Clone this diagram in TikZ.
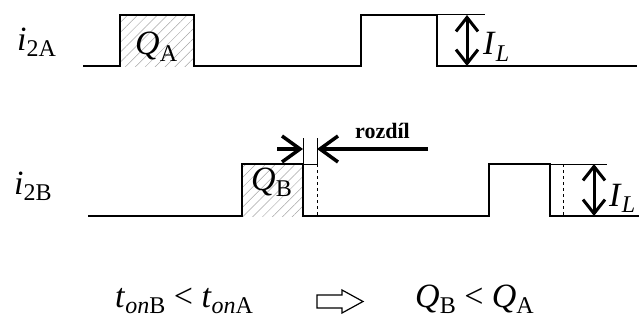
\documentclass[tikz,border=0pt]{standalone}
\usepackage{amsmath,amssymb}
\usepackage{fontspec}
\setmainfont{Liberation Serif}
\usetikzlibrary{arrows.meta,patterns.meta}
\newcommand{\idx}[1]{\raisebox{-6pt}{\fontsize{24}{24}\selectfont #1}}

\begin{document}
\begin{tikzpicture}[x=1pt,y=-1pt]
        \tikzset{Wave/.style={line width=2.4pt},
        Guide/.style={line width=1pt},
        Lbl/.style={font=\fontsize{34}{36}\selectfont,inner sep=0pt,anchor=base west},
        Hatch/.style={pattern={Lines[angle=45,distance=7pt,line width=0.5pt]},pattern color=gray!70},
        Span/.style={line width=3pt,{Straight Barb[length=14pt,width=22pt]}-{Straight Barb[length=14pt,width=22pt]}},
        Gap/.style={line width=3.5pt,-{Straight Barb[length=18pt,width=26pt]}}}
        \useasboundingbox (0,0) rectangle (639,321);
        % i_2A
        \fill[Hatch] (120,15) rectangle (194,66);
        \draw[Wave] (83,66) -- (120,66) -- (120,15) -- (194,15) -- (194,66) -- (361,66)
            -- (361,15) -- (437,15) -- (437,66) -- (637,66);
        \draw[Guide] (437,15) -- (485,15);
        \coordinate (A1) at (467,15);
        \coordinate (A2) at (467,66);
        \draw[Span] (A1) -- (A2);
        \node[Lbl] (LA) at (17,50) {\textit{i}\idx{2A}};
        \node[Lbl] (QA) at (135,55) {\textit{Q}\idx{A}};
        \node[Lbl] (IA) at (483,55) {\textit{I}\idx{\textit{L}}};
        % i_2B
        \fill[Hatch] (242,164) rectangle (303,216);
        \draw[Wave] (88,216) -- (242,216) -- (242,164) -- (303,164) -- (303,216) -- (489,216)
            -- (489,164) -- (550,164) -- (550,216) -- (639,216);
        \draw[Guide] (303,164) -- (317,164);
        \draw[Guide] (550,164) -- (607,164);
        \draw[Guide,dashed] (317,164) -- (317,216);
        \draw[Guide,dashed] (563,164) -- (563,216);
        \draw[Guide] (303,138) -- (303,164);
        \draw[Guide] (317,138) -- (317,164);
        \coordinate (B1) at (594,164);
        \coordinate (B2) at (594,216);
        \draw[Span] (B1) -- (B2);
        \coordinate (G0) at (277,149);
        \coordinate (G1) at (303,149);
        \coordinate (G2) at (317,149);
        \coordinate (G3) at (428,149);
        \draw[Gap] (G0) -- (G1);
        \draw[Gap] (G3) -- (G2);
        \node[Lbl] (LB) at (14,194) {\textit{i}\idx{2B}};
        \node[Lbl] (QB) at (251,190) {\textit{Q}\idx{B}};
        \node[Lbl] (IB) at (609,206) {\textit{I}\idx{\textit{L}}};
        \node[Lbl,font=\bfseries\fontsize{22}{24}\selectfont] (R) at (355,138) {rozdíl};
        % result
        \node[Lbl] (T) at (115,307) {\textit{t}\idx{\textit{on}B} < \textit{t}\idx{\textit{on}A}};
        \draw[line width=1.2pt] (317,295) -- (342,295) -- (342,290) -- (363,301.5) -- (342,313)
            -- (342,308) -- (317,308) -- cycle;
        \node[Lbl] (Q) at (415,307) {\textit{Q}\idx{B} < \textit{Q}\idx{A}};
    \end{tikzpicture}
\end{document}
